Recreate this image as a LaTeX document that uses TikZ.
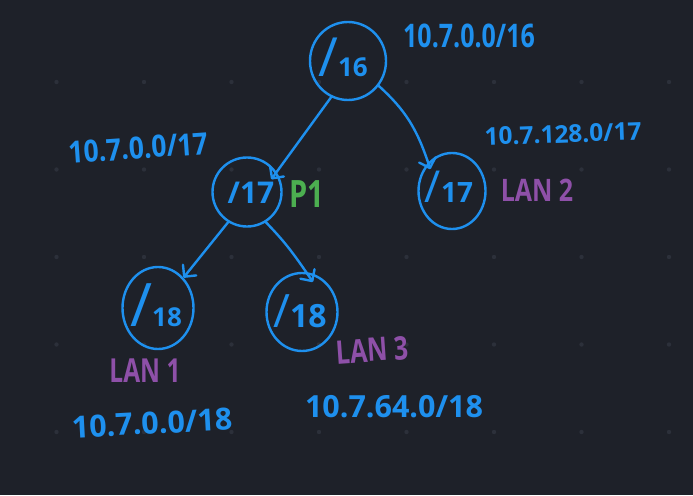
\documentclass[tikz,border=0pt]{standalone}
\usepackage{fontspec}
\usepackage{graphicx}
\setmainfont{Open Sans}
\usetikzlibrary{arrows.meta,shapes.geometric}
\definecolor{bg}{HTML}{1E2129}
\definecolor{griddot}{HTML}{2C303A}
\definecolor{pen}{HTML}{1E90EE}
\definecolor{pgreen}{HTML}{4CAF50}
\definecolor{ppurple}{HTML}{8E50A8}
\newcommand{\fs}[1]{\fontsize{#1}{#1}\selectfont}
\newcommand{\bigsl}[1]{{\mdseries\fontsize{#1}{#1}\selectfont/}}
\begin{document}
\begin{tikzpicture}[x=1pt,y=-1pt,
  circ/.style={draw=pen, line width=2.4pt, ellipse, inner sep=0pt},
  arr/.style={draw=pen, line width=2.4pt, line cap=round, line join=round,
    -{Straight Barb[length=8.5pt,width=17pt,line cap=round,line join=round]}},
  addr/.style={text=pen, inner sep=0pt, font=\bfseries},
  inlbl/.style={text=pen, inner sep=0pt, font=\bfseries},
  lan/.style={text=ppurple, inner sep=0pt, font=\bfseries}]
\fill[bg] (0,0) rectangle (693,495);
\useasboundingbox (0,0) rectangle (693,495);
\foreach \i in {0,...,7} \foreach \j in {0,...,4}
  \fill[griddot] (56.5+87.5*\i, 82+87.5*\j) circle (2.2pt);

% circles
\node[circ, minimum width=76pt, minimum height=78pt] (n16) at (348,61) {};
\node[circ, minimum width=69pt, minimum height=69pt] (n17a) at (247,192) {};
\node[circ, minimum width=67pt, minimum height=76pt] (n17b) at (452,191) {};
\node[circ, minimum width=71pt, minimum height=82pt] (n18a) at (158,308) {};
\node[circ, minimum width=71pt, minimum height=78pt] (n18b) at (302,312) {};

% labels inside circles
\node[inlbl] (t16) at (343,57) {\bigsl{54}{\fs{26}16}};
\node[inlbl] (t17a) at (251,193) {{\fs{30}/}{\fs{30}17}};
\node[inlbl] (t17b) at (449,187) {\bigsl{44}{\fs{28}17}};
\node[inlbl] (t18a) at (156,305) {\bigsl{60}{\fs{26}18}};
\node[inlbl] (t18b) at (300,311) {\bigsl{46}{\fs{32}18}};

% connectors
\draw[arr, shorten >=-9pt] (n16.245) -- (n17a.34);
\draw[arr, shorten >=-7pt] (n16.321) to[bend left=15] (n17b.130);
\draw[arr] (n17a.238) -- (n18a.50);
\draw[arr, shorten >=-12pt] (n17a.302) to[bend left=5] (n18b.84);

% addresses
\node[addr] (a16) at (469,36) {\fs{25}\scalebox{1}[1.3]{10.7.0.0/16}};
\node[addr, rotate=4] (a17a) at (138,148) {\fs{26.5}\scalebox{1}[1.15]{10.7.0.0/17}};
\node[addr, rotate=2] (a17b) at (563,134) {\fs{24.5}10.7.128.0/17};
\node[addr, rotate=3] (a18a) at (152,423) {\fs{30.5}10.7.0.0/18};
\node[addr] (a18b) at (394,407) {\fs{30.5}10.7.64.0/18};

% other labels
\node[text=pgreen, inner sep=0pt, font=\bfseries] (p1) at (307,194) {\fs{29}\scalebox{1}[1.3]{P1}};
\node[lan] (lan2) at (537,190) {\fs{25}\scalebox{1}[1.24]{LAN 2}};
\node[lan] (lan1) at (145,371) {\fs{24.5}\scalebox{1}[1.35]{LAN 1}};
\node[lan, rotate=4] (lan3) at (372,350) {\fs{25}\scalebox{1}[1.3]{LAN 3}};
\end{tikzpicture}
\end{document}
